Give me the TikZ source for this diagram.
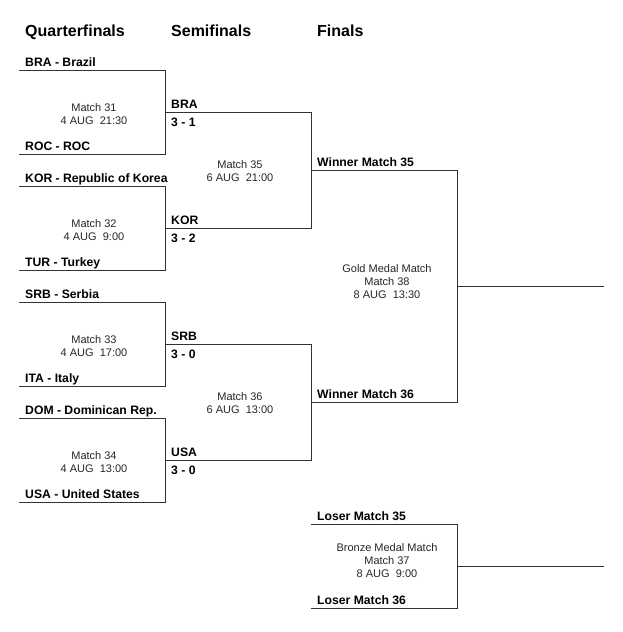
\documentclass[tikz,border=0pt]{standalone}
\usepackage{fontspec}
\setmainfont{Liberation Sans}
\begin{document}
\begin{tikzpicture}[x=1pt,y=-1pt,
  bline/.style={draw=black!80, line width=1pt},
  hdr/.style={font=\fontsize{16}{19}\selectfont\bfseries, anchor=base west, inner sep=0},
  team/.style={font=\fontsize{12.2}{15}\selectfont\bfseries, anchor=base west, inner sep=0},
  info/.style={font=\fontsize{11}{13}\selectfont, align=center, inner sep=0, text=black!85}]
\useasboundingbox (0,0) rectangle (622,632);
% headers
\node[hdr] (hq) at (25,36) {Quarterfinals};
\node[hdr] (hs) at (171,36) {Semifinals};
\node[hdr] (hf) at (317,36) {Finals};
% quarterfinal brackets
\foreach \i/\t/\b in {1/70/154, 2/186/270, 3/302/386, 4/418/502}{
  \coordinate (q\i a) at (19,\t);
  \coordinate (q\i b) at (165,\t);
  \coordinate (q\i c) at (165,\b);
  \coordinate (q\i d) at (19,\b);
  \draw[bline] (q\i a) -- (q\i b) -- (q\i c) -- (q\i d);
}
\node[team] (t1) at (25,66.5) {BRA - Brazil};
\node[team] (t2) at (25,150.5) {ROC - ROC};
\node[team] (t3) at (25,182.5) {KOR - Republic of Korea};
\node[team] (t4) at (25,266.5) {TUR - Turkey};
\node[team] (t5) at (25,298.5) {SRB - Serbia};
\node[team] (t6) at (25,382.5) {ITA - Italy};
\node[team] (t7) at (25,414.5) {DOM - Dominican Rep.};
\node[team] (t8) at (25,498.5) {USA - United States};
\node[info] (m31) at (94,114) {Match 31\\4 AUG\ \ 21:30};
\node[info] (m32) at (94,230) {Match 32\\4 AUG\ \ 9:00};
\node[info] (m33) at (94,346) {Match 33\\4 AUG\ \ 17:00};
\node[info] (m34) at (94,462) {Match 34\\4 AUG\ \ 13:00};
% semifinal brackets
\foreach \i/\t/\b in {1/112/228, 2/344/460}{
  \coordinate (s\i a) at (165,\t);
  \coordinate (s\i b) at (311,\t);
  \coordinate (s\i c) at (311,\b);
  \coordinate (s\i d) at (165,\b);
  \draw[bline] (s\i a) -- (s\i b) -- (s\i c) -- (s\i d);
}
\node[team] (w1) at (171,108.5) {BRA};
\node[team] (r1) at (171,126.5) {3 - 1};
\node[team] (w2) at (171,224.5) {KOR};
\node[team] (r2) at (171,242.5) {3 - 2};
\node[team] (w3) at (171,340.5) {SRB};
\node[team] (r3) at (171,358.5) {3 - 0};
\node[team] (w4) at (171,456.5) {USA};
\node[team] (r4) at (171,474.5) {3 - 0};
\node[info] (m35) at (240,171.5) {Match 35\\6 AUG\ \ 21:00};
\node[info] (m36) at (240,403.5) {Match 36\\6 AUG\ \ 13:00};
% gold medal match
\coordinate (f1a) at (311,170);
\coordinate (f1b) at (457,170);
\coordinate (f2b) at (457,402);
\coordinate (f2a) at (311,402);
\coordinate (g1) at (457,286);
\coordinate (g2) at (604,286);
\draw[bline] (f1a) -- (f1b) -- (f2b) -- (f2a);
\draw[bline] (g1) -- (g2);
\node[team] (wm35) at (317,166.5) {Winner Match 35};
\node[team] (wm36) at (317,398.5) {Winner Match 36};
\node[info] (m38) at (387,281.5) {Gold Medal Match\\Match 38\\8 AUG\ \ 13:30};
% bronze medal match
\coordinate (b1a) at (311,524);
\coordinate (b1b) at (457,524);
\coordinate (b2b) at (457,608);
\coordinate (b2a) at (311,608);
\coordinate (c1) at (457,566);
\coordinate (c2) at (604,566);
\draw[bline] (b1a) -- (b1b) -- (b2b) -- (b2a);
\draw[bline] (c1) -- (c2);
\node[team] (lm35) at (317,520.5) {Loser Match 35};
\node[team] (lm36) at (317,604.5) {Loser Match 36};
\node[info] (m37) at (387,560.5) {Bronze Medal Match\\Match 37\\8 AUG\ \ 9:00};
\end{tikzpicture}
\end{document}
